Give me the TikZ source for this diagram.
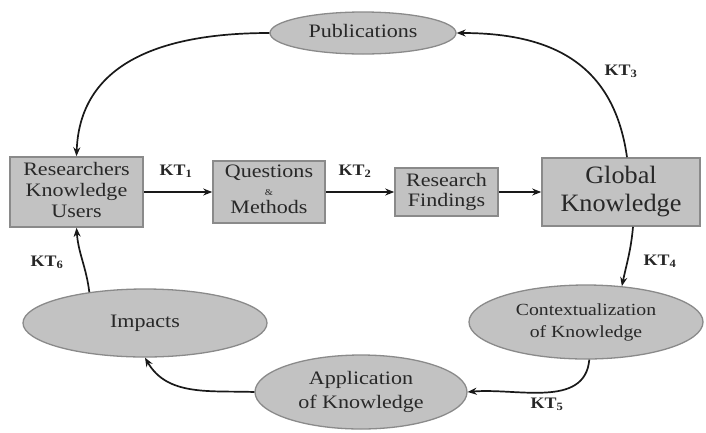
\documentclass[tikz,border=0pt]{standalone}
\usepackage{fontspec}
\setmainfont{Liberation Serif}
\usetikzlibrary{shapes.geometric,arrows.meta}
\definecolor{boxfill}{HTML}{C2C2C2}
\definecolor{boxline}{HTML}{8A8A8A}
\definecolor{txt}{HTML}{282828}
\newcommand{\wtxt}[2][1.16]{\scalebox{#1}[1]{\begin{tabular}{@{}c@{}}#2\end{tabular}}}
\begin{document}
\begin{tikzpicture}[x=1pt,y=1pt,
  box/.style={draw=boxline, line width=1.6pt, fill=boxfill, text=txt, align=center, inner sep=0pt},
  oval/.style={ellipse, draw=boxline, line width=1.3pt, fill=boxfill, text=txt, align=center, inner sep=0pt},
  arr/.style={line width=1.7pt, draw=black!90, -{Stealth[length=9pt,width=7pt]}},
  kt/.style={font=\bfseries\fontsize{16}{16}\selectfont, text=black!85, inner sep=0pt}]
\useasboundingbox (0,0) rectangle (706,-432);

% boxes
\node[box, minimum width=133pt, minimum height=70pt,
      font=\fontsize{19}{21}\selectfont] (res) at (76.5,-192) {\wtxt{Researchers\\Knowledge\\Users}};
\node[box, minimum width=112pt, minimum height=62pt,
      font=\fontsize{19}{17.5}\selectfont] (qm) at (269,-192) {\wtxt{Questions\\{\fontsize{9}{9}\selectfont\&}\\Methods}};
\node[box, minimum width=103pt, minimum height=48pt,
      font=\fontsize{19}{20}\selectfont] (rf) at (446.5,-192) {\wtxt{Research\\Findings}};
\node[box, minimum width=158pt, minimum height=68pt,
      font=\fontsize{25}{28}\selectfont] (gk) at (621,-192) {\wtxt[1.05]{Global\\Knowledge}};

% ellipses
\node[oval, minimum width=186pt, minimum height=42pt,
      font=\fontsize{19}{21}\selectfont] (pub) at (363,-33) {\wtxt{Publications}};
\node[oval, minimum width=244pt, minimum height=68pt,
      font=\fontsize{19}{21}\selectfont] (imp) at (145,-323) {\wtxt{Impacts}};
\node[oval, minimum width=234pt, minimum height=74pt,
      font=\fontsize{17}{22}\selectfont] (ctx) at (586,-322) {\wtxt{Contextualization\\of Knowledge}};
\node[oval, minimum width=212pt, minimum height=74pt,
      font=\fontsize{19}{24}\selectfont] (app) at (361,-392) {\wtxt{Application\\of Knowledge}};

% connectors
\draw[arr] (res.east) -- (qm.west);
\draw[arr] (qm.east) -- (rf.west);
\draw[arr] (rf.east) -- (gk.west);
\draw[arr] ([xshift=6pt]gk.north) to[out=98,in=0,looseness=1.15] (pub.east);
\draw[arr] (pub.west) to[out=180,in=88,looseness=1.1] (res.north);
\draw[arr] ([xshift=12pt]gk.south) to[out=-95,in=78] (ctx.45);
\draw[arr] (ctx.-85) to[out=-95,in=5] (app.east);
\draw[arr] (app.west) to[out=178,in=-60] (imp.south);
\draw[arr] (imp.151) to[out=97,in=-86] (res.south);

% labels
\node[kt] (kt1) at (176,-172) {\wtxt[1.12]{KT\textsubscript{1}}};
\node[kt] (kt2) at (355,-172) {\wtxt[1.12]{KT\textsubscript{2}}};
\node[kt] (kt3) at (621,-72) {\wtxt[1.12]{KT\textsubscript{3}}};
\node[kt] (kt4) at (660,-262) {\wtxt[1.12]{KT\textsubscript{4}}};
\node[kt] (kt5) at (547,-405) {\wtxt[1.12]{KT\textsubscript{5}}};
\node[kt] (kt6) at (47,-263) {\wtxt[1.12]{KT\textsubscript{6}}};
\end{tikzpicture}
\end{document}
